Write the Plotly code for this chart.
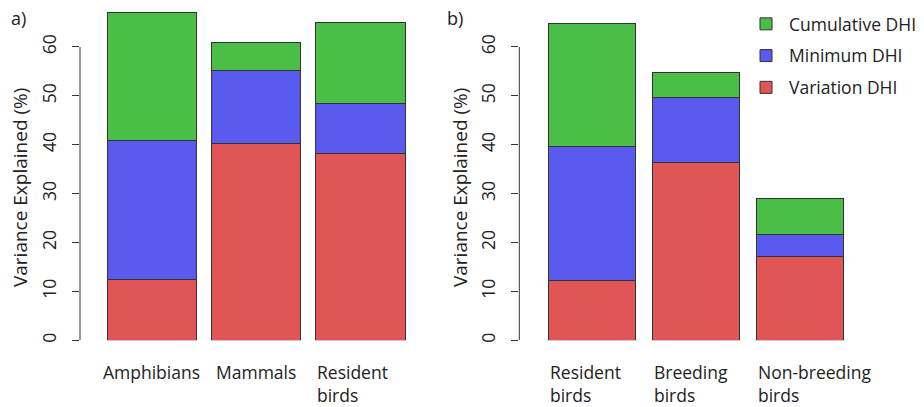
import plotly.graph_objects as go

# ---------------- data ----------------
categories_a = ["Amphibians", "Mammals", "Resident<br>birds"]
variation_a = [12.4, 40.3, 38.2]
minimum_a = [28.4, 14.9, 10.3]
cumulative_a = [26.2, 5.8, 16.6]

categories_b = ["Resident<br>birds", "Breeding<br>birds", "Non-breeding<br>birds"]
variation_b = [12.2, 36.3, 17.1]
minimum_b = [27.4, 13.4, 4.6]
cumulative_b = [25.2, 5.1, 7.3]

series_names = ["Variation DHI", "Minimum DHI", "Cumulative DHI"]
series_colors = ["#E05656", "#5A5AEE", "#4BBE47"]
legend_ranks = [3, 2, 1]
y_ticks = [0, 10, 20, 30, 40, 50, 60]
panel_labels = ["a)", "b)"]
y_title = "Variance Explained (%)"

W, H = 924, 407
FONT = "Open Sans"
TXT = "#222222"
LINE = "#333333"
FS = 17.5

fig = go.Figure()

panels = [
    (categories_a, [variation_a, minimum_a, cumulative_a], "x", "y", 0.86),
    (categories_b, [variation_b, minimum_b, cumulative_b], "x2", "y2", 0.84),
]

for pi, (cats, vals, xa, ya, bw) in enumerate(panels):
    xs = list(range(len(cats)))
    for si, (name, col) in enumerate(zip(series_names, series_colors)):
        fig.add_trace(go.Bar(
            x=xs, y=vals[si], name=name, xaxis=xa, yaxis=ya,
            marker=dict(color=col, line=dict(color=LINE, width=1)),
            width=bw, showlegend=(pi == 0), legendgroup=name,
            legendrank=legend_ranks[si],
        ))

fig.update_layout(
    barmode="stack",
    width=W, height=H,
    margin=dict(l=0, r=0, t=0, b=0),
    paper_bgcolor="white", plot_bgcolor="white",
    font=dict(family=FONT, size=FS, color=TXT),
    showlegend=True,
    legend=dict(
        x=743 / W, y=1 - 6 / H, xanchor="left", yanchor="top",
        traceorder="grouped", tracegroupgap=6, itemwidth=36,
        font=dict(size=FS, color=TXT), bgcolor="rgba(0,0,0,0)",
    ),
)

plot_bottom = 342.0
ymax = 69.6
dom_y = [1 - plot_bottom / H, 1.0]

ax_common_x = dict(showline=False, showgrid=False, zeroline=False,
                   showticklabels=False, ticks="")
ax_common_y = dict(range=[0, ymax], showline=False, showgrid=False,
                   zeroline=False, tickmode="array", tickvals=y_ticks,
                   ticks="outside", ticklen=7, tickcolor=LINE, tickwidth=1,
                   tickangle=-90, tickfont=dict(size=FS, color=TXT),
                   ticklabelstandoff=9)

fig.update_layout(
    xaxis=dict(domain=[80 / W, 412.4 / W], range=[-0.69, 2.5], anchor="y", **ax_common_x),
    yaxis=dict(domain=dom_y, anchor="x", **ax_common_y),
    xaxis2=dict(domain=[519.3 / W, 851.7 / W], range=[-0.7, 2.5], anchor="y2", **ax_common_x),
    yaxis2=dict(domain=dom_y, anchor="x2", **ax_common_y),
)

# y axis lines spanning only the tick range (R style)
for xr, yr in [("x domain", "y"), ("x2 domain", "y2")]:
    fig.add_shape(type="line", xref=xr, yref=yr, x0=0, x1=0,
                  y0=y_ticks[0], y1=y_ticks[-1],
                  line=dict(color=LINE, width=1))

annotations = []
# category labels below bars
for cats, xa, bw in [(categories_a, "x", 0.86), (categories_b, "x2", 0.84)]:
    for i, c in enumerate(cats):
        multiline = "<br>" in c
        annotations.append(dict(
            x=(i - bw / 2) if multiline else i, xref=xa,
            y=1 - 360 / H, yref="paper", yanchor="top",
            xanchor="left" if multiline else "center", align="left",
            text=c, showarrow=False, font=dict(size=FS, color=TXT),
        ))

# y axis titles (rotated)
for xc in [20, 460]:
    annotations.append(dict(x=xc / W, y=1 - 189 / H, xref="paper", yref="paper",
                            xanchor="center", yanchor="middle", textangle=-90,
                            text=y_title, showarrow=False,
                            font=dict(size=19, color=TXT)))

# panel labels
annotations.append(dict(x=9 / W, y=1 - 4 / H, xref="paper", yref="paper",
                        xanchor="left", yanchor="top", text=panel_labels[0],
                        showarrow=False, font=dict(size=18, color=TXT)))
annotations.append(dict(x=445 / W, y=1 - 4 / H, xref="paper", yref="paper",
                        xanchor="left", yanchor="top", text=panel_labels[1],
                        showarrow=False, font=dict(size=18, color=TXT)))
fig.update_layout(annotations=annotations)

fig.write_html("out.html", config={"displayModeBar": False},
               post_script="document.body.style.margin='0px';document.body.style.padding='0px';")
